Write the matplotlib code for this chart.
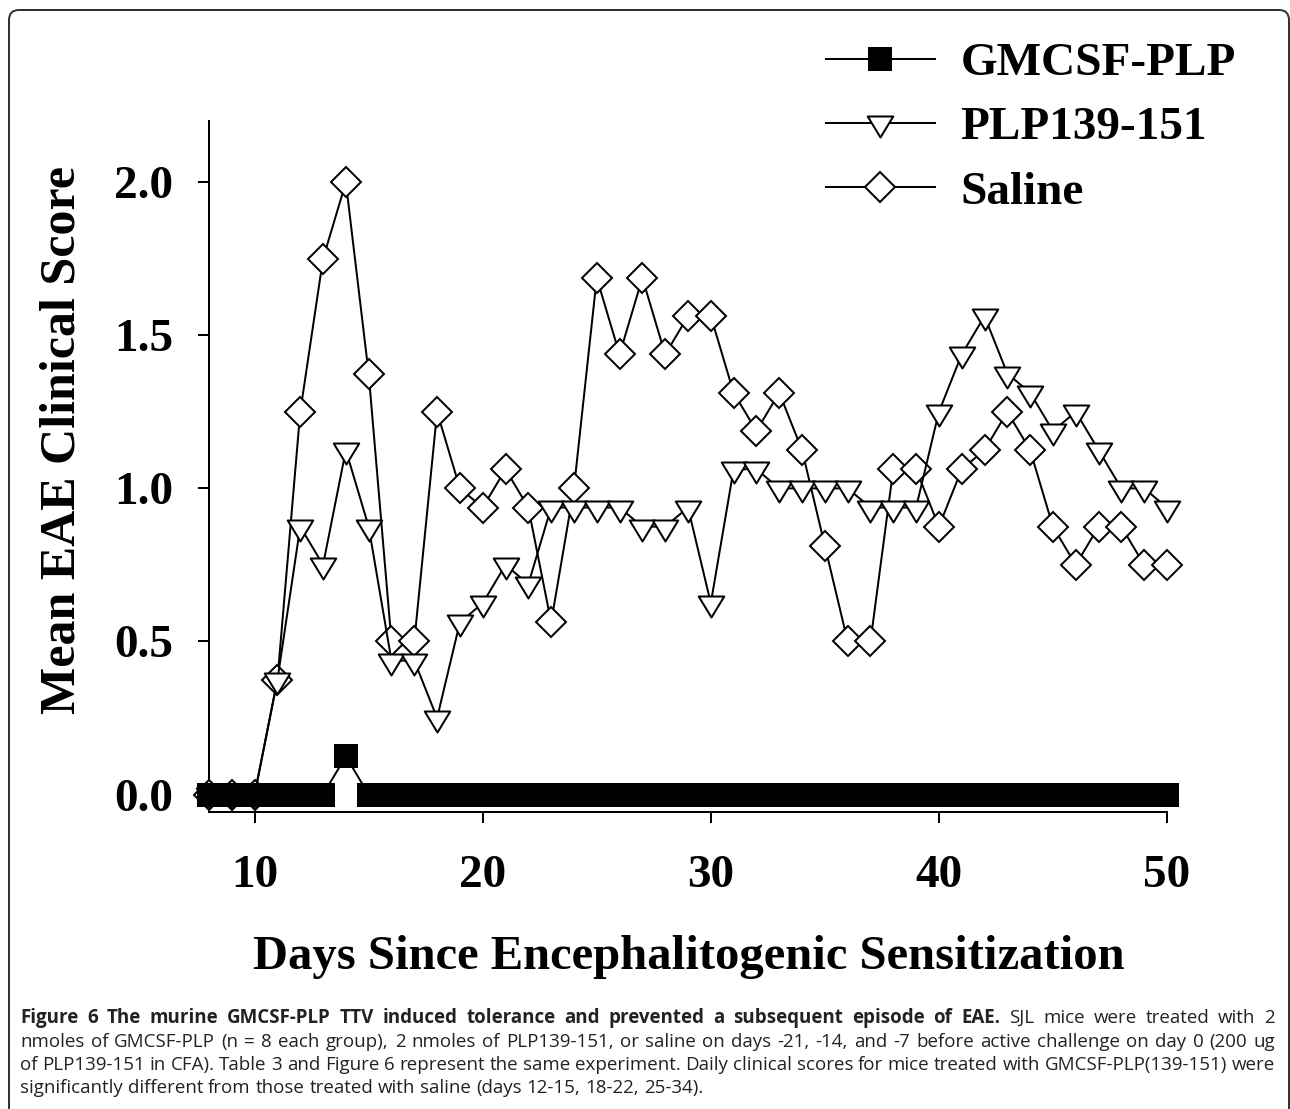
import matplotlib
matplotlib.use("Agg")
import matplotlib.pyplot as plt
from matplotlib.path import Path
from matplotlib.patches import FancyBboxPatch
from matplotlib.transforms import IdentityTransform

W, H = 1290, 1109

# ---- data ----
days = [8, 9, 10, 11, 12, 13, 14, 15, 16, 17, 18, 19, 20, 21, 22, 23, 24, 25, 26,
        27, 28, 29, 30, 31, 32, 33, 34, 35, 36, 37, 38, 39, 40, 41, 42, 43, 44, 45,
        46, 47, 48, 49, 50]
gmcsf_plp = [0, 0, 0, 0, 0, 0, 0.125, 0, 0, 0, 0, 0, 0, 0, 0, 0, 0, 0, 0, 0, 0, 0,
             0, 0, 0, 0, 0, 0, 0, 0, 0, 0, 0, 0, 0, 0, 0, 0, 0, 0, 0, 0, 0]
plp139_151 = [0, 0, 0, 0.375, 0.875, 0.75, 1.125, 0.875, 0.4375, 0.4375, 0.25,
              0.5625, 0.625, 0.75, 0.6875, 0.9375, 0.9375, 0.9375, 0.9375, 0.875,
              0.875, 0.9375, 0.625, 1.0625, 1.0625, 1.0, 1.0, 1.0, 1.0, 0.9375,
              0.9375, 0.9375, 1.25, 1.4375, 1.5625, 1.375, 1.3125, 1.1875, 1.25,
              1.125, 1.0, 1.0, 0.9375]
saline = [0, 0, 0, 0.375, 1.25, 1.75, 2.0, 1.375, 0.5, 0.5, 1.25, 1.0, 0.9375,
          1.0625, 0.9375, 0.5625, 1.0, 1.6875, 1.4375, 1.6875, 1.4375, 1.5625,
          1.5625, 1.3125, 1.1875, 1.3125, 1.125, 0.8125, 0.5, 0.5, 1.0625, 1.0625,
          0.875, 1.0625, 1.125, 1.25, 1.125, 0.875, 0.75, 0.875, 0.875, 0.75, 0.75]

labels = ["GMCSF-PLP", "PLP139-151", "Saline"]
x_ticks = [10, 20, 30, 40, 50]
y_ticks = [0.0, 0.5, 1.0, 1.5, 2.0]
y_tick_labels = ["0.0", "0.5", "1.0", "1.5", "2.0"]
x_label = "Days Since Encephalitogenic Sensitization"
y_label = "Mean EAE Clinical Score"

caption_bold_words = 15
caption_lines = [
    "Figure 6 The murine GMCSF-PLP TTV induced tolerance and prevented a subsequent "
    "episode of EAE. SJL mice were treated with 2",
    "nmoles of GMCSF-PLP (n = 8 each group), 2 nmoles of PLP139-151, or saline on days "
    "-21, -14, and -7 before active challenge on day 0 (200 ug",
    "of PLP139-151 in CFA). Table 3 and Figure 6 represent the same experiment. Daily "
    "clinical scores for mice treated with GMCSF-PLP(139-151) were",
    "significantly different from those treated with saline (days 12-15, 18-22, 25-34).",
]

SERIF = "Liberation Serif"
CAP_FONT = ["Open Sans", "Lato", "DejaVu Sans"]


def pt(px_val):
    return px_val * 72.0 / 100.0


plt.rcParams["font.family"] = SERIF
plt.rcParams["font.weight"] = "bold"

fig = plt.figure(figsize=(W / 100, H / 100), dpi=100)
ax = fig.add_axes([209 / W, 1 - 812 / H, (1167 - 209) / W, (812 - 121) / H])

# markers
tri = Path([(-12.75, 7), (12.75, 7), (0, -14), (-12.75, 7)], closed=True)
lw = pt(2)

l_sal, = ax.plot(days, saline, color="black", lw=lw, marker="D", ms=pt(21),
                 mfc="white", mec="black", mew=lw, clip_on=False, zorder=3)
l_plp, = ax.plot(days, plp139_151, color="black", lw=lw, marker=tri, ms=pt(28),
                 mfc="white", mec="black", mew=lw, clip_on=False, zorder=4)
l_gm, = ax.plot(days, gmcsf_plp, color="black", lw=lw, marker="s", ms=pt(22),
                mfc="black", mec="black", mew=lw, clip_on=False, zorder=5)

ax.set_xlim(8, 50)
ax.set_ylim(-0.057, 2.2)
ax.spines["top"].set_visible(False)
ax.spines["right"].set_visible(False)
for s in ("left", "bottom"):
    ax.spines[s].set_linewidth(pt(2))
ax.set_xticks(x_ticks)
ax.set_xticklabels([str(v) for v in x_ticks])
ax.set_yticks(y_ticks)
ax.set_yticklabels(y_tick_labels)
ax.tick_params(axis="both", direction="out", length=pt(11), width=pt(2),
               labelsize=34)
ax.tick_params(axis="x", pad=pt(32))
ax.tick_params(axis="y", pad=pt(25))

ax.set_xlabel(x_label, fontsize=35, fontweight="bold")
ax.xaxis.set_label_coords(689 / W, 1 - 935 / H, transform=fig.transFigure)
ax.set_ylabel(y_label, fontsize=36, fontweight="bold")
ax.yaxis.set_label_coords(86 / W, 1 - 440 / H, transform=fig.transFigure)

fig.legend(handles=[l_gm, l_plp, l_sal], labels=labels, loc="upper left",
           bbox_to_anchor=(826 / W, 1 - 42 / H), frameon=False,
           prop=dict(family=SERIF, weight="bold", size=34), handlelength=2.3,
           handletextpad=0.55, labelspacing=0.45, borderpad=0, borderaxespad=0,
           numpoints=1)

# ---- caption, justified word by word ----
renderer = fig.canvas.get_renderer()
left_px, right_px = 20, 1275
baselines = [1023, 1047, 1070, 1093]


def measure(word, weight, size):
    t = fig.text(0, 0, word, fontsize=size, fontweight=weight, family=CAP_FONT)
    w = t.get_window_extent(renderer).width
    t.remove()
    return w


tokens = []
for i, line in enumerate(caption_lines):
    words = line.split(" ")
    tokens.append([(w, "bold" if (i == 0 and j < caption_bold_words) else "normal")
                   for j, w in enumerate(words)])

size = 12.0
natural = []
for toks in tokens[:-1]:
    ww = sum(measure(w, wt, size) for w, wt in toks)
    natural.append(ww + 0.26 * size * 100 / 72 * (len(toks) - 1))
size *= (right_px - left_px) / max(natural)

for i, toks in enumerate(tokens):
    widths = [measure(w, wt, size) for w, wt in toks]
    if i < len(tokens) - 1:
        gap = (right_px - left_px - sum(widths)) / (len(toks) - 1)
    else:
        gap = 0.26 * size * 100 / 72
    x = left_px
    for (w, wt), wd in zip(toks, widths):
        fig.text(x / W, 1 - baselines[i] / H, w, fontsize=size, fontweight=wt,
                 family=CAP_FONT, va="baseline", ha="left", color="#222222")
        x += wd + gap

# rounded frame around the figure panel
frame = FancyBboxPatch((9, H - 1120), 1289 - 9, 1120 - 10,
                       boxstyle="round,pad=0,rounding_size=10",
                       transform=IdentityTransform(), fill=False,
                       edgecolor="#333333", lw=pt(2))
fig.patches.append(frame)

fig.savefig("out.png", dpi=100)
